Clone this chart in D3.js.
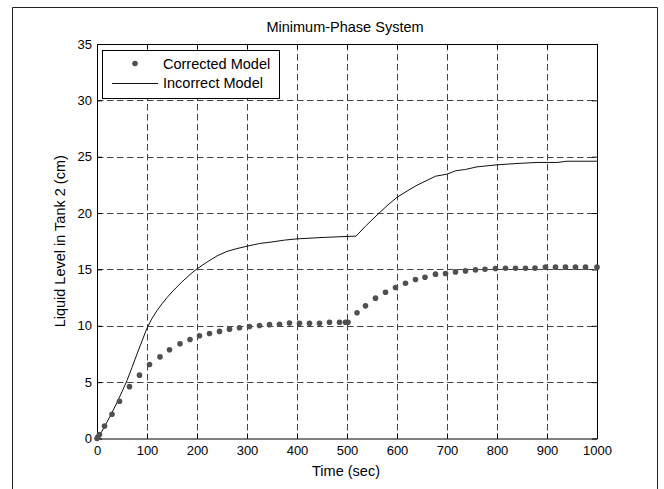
<!DOCTYPE html>
<html>
<head>
<meta charset="utf-8">
<script src="https://cdn.jsdelivr.net/npm/d3@7"></script>
<style>
	body { margin: 0; background: white; }
	text { font-family: "Liberation Sans", Arial, sans-serif; fill: black; }
</style>
</head>
<body>
<div id="chart"></div>
<script>
// Corrected model samples (sec, cm)
var correctedTime = [0, 2, 5, 15, 30, 45, 65, 85, 105, 126, 145, 166, 186, 205, 225, 245, 265, 285, 305,
	325, 345, 365, 385, 405, 425, 445, 465, 485, 497, 502, 520, 537, 557, 577, 597, 617, 637, 656,
	677, 697, 717, 737, 757, 776, 797, 817, 837, 857, 876, 897, 917, 937, 957, 977, 1000];
var correctedLevel = [0, 0.12, 0.35, 1.1, 2.15, 3.3, 4.6, 5.62, 6.56, 7.24, 7.87, 8.4, 8.78, 9.12, 9.32, 9.5, 9.7, 9.82, 9.94,
	10.03, 10.1, 10.14, 10.25, 10.23, 10.23, 10.23, 10.32, 10.32, 10.32, 10.32, 11.15, 11.77, 12.45, 12.98, 13.4, 13.78, 14.11, 14.31,
	14.58, 14.64, 14.78, 14.87, 14.96, 15.02, 15.08, 15.1, 15.1, 15.1, 15.12, 15.2, 15.2, 15.2, 15.2, 15.2, 15.2];
// Incorrect model response
var incorrectTime = [0, 10, 20, 30, 40, 50, 60, 70, 80, 90, 100, 110, 120, 130, 140, 150, 160, 170, 180, 190, 200,
	220, 240, 260, 280, 300, 325, 350, 375, 400, 450, 500, 518, 537, 560, 580, 600, 620, 640, 660, 677,
	700, 717, 737, 760, 800, 840, 880, 920, 940, 1000];
var incorrectLevel = [0, 0.65, 1.45, 2.3, 3.2, 4.15, 5.15, 6.3, 7.5, 8.65, 9.8, 10.65, 11.35, 11.95, 12.5, 13.0, 13.45, 13.9, 14.3, 14.7, 15.05,
	15.65, 16.2, 16.6, 16.85, 17.06, 17.3, 17.44, 17.6, 17.71, 17.83, 17.93, 17.95, 18.84, 19.82, 20.65, 21.4, 21.95, 22.47, 22.9, 23.27,
	23.45, 23.75, 23.87, 24.1, 24.28, 24.4, 24.49, 24.49, 24.6, 24.6];
// Ticks
var xTicks = [0, 100, 200, 300, 400, 500, 600, 700, 800, 900, 1000];
var yTicks = [0, 5, 10, 15, 20, 25, 30, 35];
var legendNames = ["Corrected Model", "Incorrect Model"];

// Canvas parameters
var canvas = {
	width: 664,
	height: 489,
	left: 97,
	right: 597,
	top: 44,
	bottom: 438.5
};
var dotColor = "#505050";

var svg = d3.select("#chart")
	.append("svg")
	.attr("width", canvas.width)
	.attr("height", canvas.height);

// Figure frame (open at the bottom)
svg.append("path")
	.attr("d", "M12.5,489 V7.5 H657.5 V489")
	.attr("fill", "none")
	.attr("stroke", "#222")
	.attr("stroke-width", 1);

var x = d3.scaleLinear().domain([0, 1000]).range([canvas.left, canvas.right]);
var y = d3.scaleLinear().domain([0, 35]).range([canvas.bottom, canvas.top]);

// Dashed grid
svg.append("g")
	.selectAll("line")
	.data(xTicks.slice(1, -1))
	.enter()
	.append("line")
	.attr("x1", function(d) { return Math.round(x(d)) + 0.5; })
	.attr("x2", function(d) { return Math.round(x(d)) + 0.5; })
	.attr("y1", canvas.top)
	.attr("y2", canvas.bottom)
	.attr("stroke", "#444")
	.attr("stroke-dasharray", "6.5,3.5");
svg.append("g")
	.selectAll("line")
	.data(yTicks.slice(1, -1))
	.enter()
	.append("line")
	.attr("y1", function(d) { return Math.round(y(d)) + 0.5; })
	.attr("y2", function(d) { return Math.round(y(d)) + 0.5; })
	.attr("x1", canvas.left)
	.attr("x2", canvas.right)
	.attr("stroke", "#444")
	.attr("stroke-dasharray", "6.5,3.5");

// Axes, ticks pointing inwards on all four sides
svg.append("g")
	.attr("transform", "translate(0," + canvas.bottom + ")")
	.call(d3.axisBottom(x).tickValues(xTicks).tickFormat(d3.format("d")).tickSize(-5).tickSizeOuter(0).tickPadding(7))
	.attr("font-size", 13);
svg.append("g")
	.attr("transform", "translate(0," + canvas.top + ")")
	.call(d3.axisTop(x).tickValues(xTicks).tickSize(-5).tickSizeOuter(0).tickFormat(""));
svg.append("g")
	.attr("transform", "translate(" + canvas.left + ",0)")
	.call(d3.axisLeft(y).tickValues(yTicks).tickFormat(d3.format("d")).tickSize(-5).tickSizeOuter(0).tickPadding(5))
	.attr("font-size", 13);
svg.append("g")
	.attr("transform", "translate(" + canvas.right + ",0)")
	.call(d3.axisRight(y).tickValues(yTicks).tickSize(-5).tickSizeOuter(0).tickFormat(""));
svg.selectAll(".domain").attr("stroke", "black");
svg.selectAll(".tick line").attr("stroke", "black");
svg.selectAll(".tick text").attr("font-family", "Liberation Sans, Arial, sans-serif");

// Incorrect model line
var line = d3.line()
	.x(function(d, i) { return x(incorrectTime[i]); })
	.y(function(d) { return y(d); });
svg.append("path")
	.attr("d", line(incorrectLevel))
	.attr("fill", "none")
	.attr("stroke", "#111")
	.attr("stroke-width", 1);

// Corrected model dots
svg.append("g")
	.selectAll("circle")
	.data(correctedLevel)
	.enter()
	.append("circle")
	.attr("cx", function(d, i) { return x(correctedTime[i]); })
	.attr("cy", function(d) { return y(d); })
	.attr("r", 2.8)
	.attr("fill", dotColor);

// Legend
var legend = svg.append("g");
legend.append("rect")
	.attr("x", 102.5)
	.attr("y", 50.5)
	.attr("width", 177)
	.attr("height", 48)
	.attr("fill", "white")
	.attr("stroke", "black");
legend.append("circle")
	.attr("cx", 135)
	.attr("cy", 63.5)
	.attr("r", 2.8)
	.attr("fill", dotColor);
legend.append("line")
	.attr("x1", 112)
	.attr("x2", 158)
	.attr("y1", 83.5)
	.attr("y2", 83.5)
	.attr("stroke", "#111");
legend.selectAll("text")
	.data(legendNames)
	.enter()
	.append("text")
	.text(function(d) { return d; })
	.attr("x", 163)
	.attr("y", function(d, i) { return 69 + i * 18.5; })
	.attr("font-size", 14.5);

// Title and labels
svg.append("text")
	.text("Minimum-Phase System")
	.attr("x", 345)
	.attr("y", 32)
	.attr("text-anchor", "middle")
	.attr("font-size", 14.5);
svg.append("text")
	.text("Time (sec)")
	.attr("x", 346)
	.attr("y", 475.5)
	.attr("text-anchor", "middle")
	.attr("font-size", 14.5);
svg.append("text")
	.text("Liquid Level in Tank 2 (cm)")
	.attr("transform", "translate(64.5," + ((canvas.top + canvas.bottom) / 2) + ") rotate(-90)")
	.attr("text-anchor", "middle")
	.attr("font-size", 14.5);
</script>
</body>
</html>
